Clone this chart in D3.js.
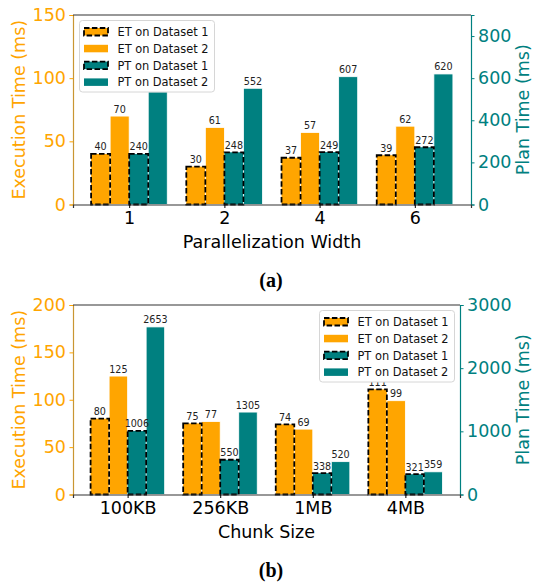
<!DOCTYPE html>
<html>
<head>
<meta charset="utf-8">
<script src="https://cdn.jsdelivr.net/npm/d3@7"></script>
<style>
  body { margin: 0; background: #fff; }
  svg { display: block; }
</style>
</head>
<body>
<div id="chart"></div>
<script>
// data: panel (a)
const widths = ["1", "2", "4", "6"];
const etData1A = [40, 30, 37, 39];
const etData2A = [70, 61, 57, 62];
const ptData1A = [240, 248, 249, 272];
const ptData2A = [535, 552, 607, 620];
const etTicksA = [0, 50, 100, 150];
const ptTicksA = [0, 200, 400, 600, 800];

// data: panel (b)
const chunks = ["100KB", "256KB", "1MB", "4MB"];
const etData1B = [80, 75, 74, 111];
const etData2B = [125, 77, 69, 99];
const ptData1B = [1006, 550, 338, 321];
const ptData2B = [2653, 1305, 520, 359];
const etTicksB = [0, 50, 100, 150, 200];
const ptTicksB = [0, 1000, 2000, 3000];

const legendNames = ["ET on Dataset 1", "ET on Dataset 2", "PT on Dataset 1", "PT on Dataset 2"];

const ORANGE = "#ffa500";
const TEAL = "#008080";
const FONT = "DejaVu Sans, sans-serif";
const BIG = "17.5px";

const svg = d3.select("#chart")
  .append("svg")
  .attr("width", 536)
  .attr("height", 586);

function panel(o) {
  const g = svg.append("g");
  const x = d3.scaleLinear().domain([-0.59, 3.59]).range([o.left, o.right]);
  const yL = d3.scaleLinear().domain([0, o.etMax]).range([o.bottom, o.top]);
  const yR = d3.scaleLinear().domain([0, o.ptMax]).range([o.bottom, o.top]);
  const bw = x(0.2) - x(0);

  const series = [
    { vals: o.et1, y: yL, fill: ORANGE, dashed: true, off: -1.5 },
    { vals: o.et2, y: yL, fill: ORANGE, dashed: false, off: -0.5 },
    { vals: o.pt1, y: yR, fill: TEAL, dashed: true, off: 0.5 },
    { vals: o.pt2, y: yR, fill: TEAL, dashed: false, off: 1.5 }
  ];

  // bars
  series.forEach(s => {
    g.selectAll(null).data(s.vals).enter().append("rect")
      .attr("x", (d, i) => x(i + s.off * 0.2 - 0.1))
      .attr("y", d => s.y(d))
      .attr("width", bw)
      .attr("height", d => o.bottom - s.y(d))
      .attr("fill", s.fill)
      .attr("stroke", s.dashed ? "none" : "#fff")
      .attr("stroke-width", 0.8);
  });
  // dashed outlines on top
  series.filter(s => s.dashed).forEach(s => {
    g.selectAll(null).data(s.vals).enter().append("rect")
      .attr("x", (d, i) => x(i + s.off * 0.2 - 0.1))
      .attr("y", d => s.y(d))
      .attr("width", bw)
      .attr("height", d => o.bottom - s.y(d))
      .attr("fill", "none")
      .attr("stroke", "#000")
      .attr("stroke-width", 1.8)
      .attr("stroke-dasharray", "5.5,2.4");
  });
  // value labels
  series.forEach(s => {
    g.selectAll(null).data(s.vals).enter().append("text")
      .attr("x", (d, i) => x(i + s.off * 0.2))
      .attr("y", d => s.y(d) - 3.5)
      .attr("text-anchor", "middle")
      .attr("font-family", FONT)
      .attr("font-size", "9.6px")
      .attr("fill", "#222")
      .text(d => d);
  });

  // axes
  const axL = g.append("g").attr("transform", `translate(${o.left},0)`)
    .call(d3.axisLeft(yL).tickValues(o.etTicks).tickSize(3.5).tickPadding(3.5));
  axL.select(".domain").attr("stroke", "#c99632").attr("stroke-width", 1.2);
  axL.selectAll(".tick line").attr("stroke", ORANGE);
  axL.selectAll(".tick text").attr("fill", ORANGE).attr("font-size", BIG).attr("font-family", FONT);

  const axR = g.append("g").attr("transform", `translate(${o.right},0)`)
    .call(d3.axisRight(yR).tickValues(o.ptTicks).tickFormat(d3.format("d")).tickSize(3.5).tickPadding(3.5));
  axR.select(".domain").attr("stroke", TEAL).attr("stroke-width", 1.2);
  axR.selectAll(".tick line").attr("stroke", TEAL);
  axR.selectAll(".tick text").attr("fill", TEAL).attr("font-size", BIG).attr("font-family", FONT);

  const axB = g.append("g").attr("transform", `translate(0,${o.bottom})`)
    .call(d3.axisBottom(x).tickValues([0, 1, 2, 3]).tickFormat(i => o.cats[i]).tickSize(3.5).tickPadding(3.5));
  axB.select(".domain").attr("stroke", "#333").attr("stroke-width", 1.2);
  axB.selectAll(".tick line").attr("stroke", "#000");
  axB.selectAll(".tick text").attr("fill", "#000").attr("font-size", BIG).attr("font-family", FONT);

  // top spine
  g.append("line")
    .attr("x1", o.left).attr("x2", o.right)
    .attr("y1", o.top).attr("y2", o.top)
    .attr("stroke", "#333").attr("stroke-width", 1.2);

  // axis labels
  const midY = (o.top + o.bottom) / 2;
  g.append("text")
    .attr("transform", `translate(25,${midY}) rotate(-90)`)
    .attr("text-anchor", "middle")
    .attr("font-family", FONT).attr("font-size", BIG)
    .attr("fill", ORANGE)
    .text("Execution Time (ms)");
  g.append("text")
    .attr("transform", `translate(529,${midY}) rotate(-90)`)
    .attr("text-anchor", "middle")
    .attr("font-family", FONT).attr("font-size", BIG)
    .attr("fill", TEAL)
    .text("Plan Time (ms)");
  g.append("text")
    .attr("x", (o.left + o.right) / 2)
    .attr("y", o.bottom + 43)
    .attr("text-anchor", "middle")
    .attr("font-family", FONT).attr("font-size", BIG)
    .attr("fill", "#000")
    .text(o.xlabel);

  // legend
  const lg = g.append("g").attr("transform", `translate(${o.legX},${o.legY})`);
  lg.append("rect")
    .attr("width", 135).attr("height", 71.5)
    .attr("rx", 3)
    .attr("fill", "#fff")
    .attr("stroke", "#d6d6d6");
  series.forEach((s, k) => {
    const ry = 7 + k * 16.8;
    lg.append("rect")
      .attr("x", 4.5).attr("y", ry + 0.5)
      .attr("width", 24).attr("height", 7.5)
      .attr("fill", s.fill)
      .attr("stroke", s.dashed ? "#000" : "none")
      .attr("stroke-width", 1.8)
      .attr("stroke-dasharray", "5.5,2.4");
    lg.append("text")
      .attr("x", 38).attr("y", ry + 8.5)
      .attr("font-family", FONT).attr("font-size", "11.4px")
      .attr("fill", "#111")
      .text(legendNames[k]);
  });

  // caption
  svg.append("text")
    .attr("x", 271)
    .attr("y", o.capY)
    .attr("text-anchor", "middle")
    .attr("font-family", "Liberation Serif, serif")
    .attr("font-weight", "bold")
    .attr("font-size", "20px")
    .attr("fill", "#000")
    .text(o.caption);
}

panel({
  cats: widths, et1: etData1A, et2: etData2A, pt1: ptData1A, pt2: ptData2A,
  etMax: 150, ptMax: 900, etTicks: etTicksA, ptTicks: ptTicksA,
  left: 73, right: 471, top: 15, bottom: 204.5,
  xlabel: "Parallelization Width", legX: 79.5, legY: 20.5,
  caption: "(a)", capY: 287
});

panel({
  cats: chunks, et1: etData1B, et2: etData2B, pt1: ptData1B, pt2: ptData2B,
  etMax: 200, ptMax: 3000, etTicks: etTicksB, ptTicks: ptTicksB,
  left: 73, right: 460, top: 305, bottom: 494.5,
  xlabel: "Chunk Size", legX: 319.5, legY: 310.5,
  caption: "(b)", capY: 577
});
</script>
</body>
</html>
